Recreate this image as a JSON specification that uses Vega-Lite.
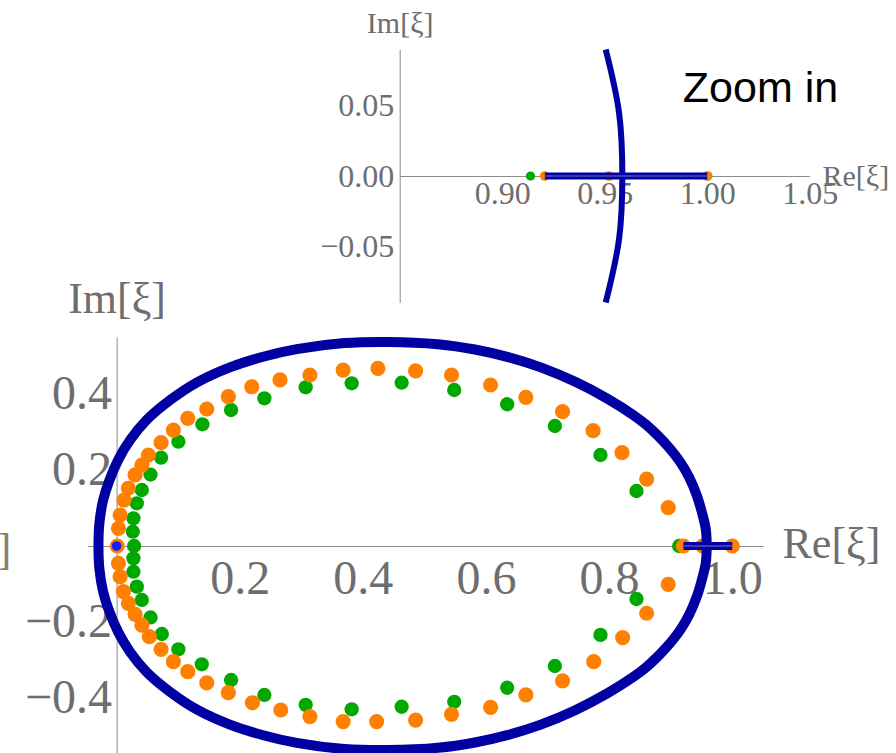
{
  "$schema": "https://vega.github.io/schema/vega-lite/v6.json",
  "width": 896,
  "height": 753,
  "autosize": "none",
  "padding": 0,
  "config": {
    "view": {"stroke": null},
    "axis": {
      "grid": false,
      "domainColor": "#8c8c8c",
      "tickColor": "#8c8c8c",
      "labelColor": "#6e6e6e",
      "titleColor": "#6e6e6e",
      "labelFont": "Liberation Serif",
      "titleFont": "Liberation Serif",
      "titleFontWeight": "normal",
      "labelFlush": false,
      "labelOverlap": false,
      "labelBound": false,
      "tickSize": 0,
      "zindex": 0
    }
  },
  "datasets": {
    "curve": [
      {"i": 0, "x": 0.9586, "y": 0},
      {"i": 1, "x": 0.9570, "y": 0.045},
      {"i": 2, "x": 0.9505, "y": 0.09},
      {"i": 3, "x": 0.9425, "y": 0.133},
      {"i": 4, "x": 0.9302, "y": 0.18},
      {"i": 5, "x": 0.9155, "y": 0.221},
      {"i": 6, "x": 0.8968, "y": 0.26},
      {"i": 7, "x": 0.8788, "y": 0.291},
      {"i": 8, "x": 0.8595, "y": 0.32},
      {"i": 9, "x": 0.840, "y": 0.344},
      {"i": 10, "x": 0.797, "y": 0.388},
      {"i": 11, "x": 0.745, "y": 0.432},
      {"i": 12, "x": 0.689, "y": 0.47},
      {"i": 13, "x": 0.636, "y": 0.497},
      {"i": 14, "x": 0.582, "y": 0.517},
      {"i": 15, "x": 0.522, "y": 0.531},
      {"i": 16, "x": 0.44, "y": 0.537},
      {"i": 17, "x": 0.37, "y": 0.534},
      {"i": 18, "x": 0.2925, "y": 0.518},
      {"i": 19, "x": 0.238, "y": 0.498},
      {"i": 20, "x": 0.184, "y": 0.47},
      {"i": 21, "x": 0.13, "y": 0.43},
      {"i": 22, "x": 0.087, "y": 0.384},
      {"i": 23, "x": 0.049, "y": 0.332},
      {"i": 24, "x": 0.022, "y": 0.279},
      {"i": 25, "x": 0.003, "y": 0.228},
      {"i": 26, "x": -0.012, "y": 0.172},
      {"i": 27, "x": -0.022, "y": 0.12},
      {"i": 28, "x": -0.028, "y": 0.06},
      {"i": 29, "x": -0.0295, "y": 0},
      {"i": 30, "x": -0.028, "y": -0.06},
      {"i": 31, "x": -0.022, "y": -0.12},
      {"i": 32, "x": -0.012, "y": -0.172},
      {"i": 33, "x": 0.003, "y": -0.228},
      {"i": 34, "x": 0.022, "y": -0.279},
      {"i": 35, "x": 0.049, "y": -0.332},
      {"i": 36, "x": 0.087, "y": -0.384},
      {"i": 37, "x": 0.13, "y": -0.43},
      {"i": 38, "x": 0.184, "y": -0.47},
      {"i": 39, "x": 0.238, "y": -0.498},
      {"i": 40, "x": 0.2925, "y": -0.518},
      {"i": 41, "x": 0.37, "y": -0.534},
      {"i": 42, "x": 0.44, "y": -0.537},
      {"i": 43, "x": 0.522, "y": -0.531},
      {"i": 44, "x": 0.582, "y": -0.517},
      {"i": 45, "x": 0.636, "y": -0.497},
      {"i": 46, "x": 0.689, "y": -0.47},
      {"i": 47, "x": 0.745, "y": -0.432},
      {"i": 48, "x": 0.797, "y": -0.388},
      {"i": 49, "x": 0.840, "y": -0.344},
      {"i": 50, "x": 0.8595, "y": -0.32},
      {"i": 51, "x": 0.8788, "y": -0.291},
      {"i": 52, "x": 0.8968, "y": -0.26},
      {"i": 53, "x": 0.9155, "y": -0.221},
      {"i": 54, "x": 0.9302, "y": -0.18},
      {"i": 55, "x": 0.9425, "y": -0.133},
      {"i": 56, "x": 0.9505, "y": -0.09},
      {"i": 57, "x": 0.9570, "y": -0.045},
      {"i": 58, "x": 0.9586, "y": 0}
    ],
    "dots": [
      {"s": "G", "x": 0.0284, "y": 0},
      {"s": "G", "x": 0.0263, "y": 0.0376},
      {"s": "G", "x": 0.0273, "y": 0.0729},
      {"s": "G", "x": 0.0328, "y": 0.1124},
      {"s": "G", "x": 0.0409, "y": 0.1474},
      {"s": "G", "x": 0.055, "y": 0.188},
      {"s": "G", "x": 0.0722, "y": 0.2324},
      {"s": "G", "x": 0.1003, "y": 0.2745},
      {"s": "G", "x": 0.1393, "y": 0.3203},
      {"s": "G", "x": 0.1859, "y": 0.3579},
      {"s": "G", "x": 0.24, "y": 0.3887},
      {"s": "G", "x": 0.3071, "y": 0.4176},
      {"s": "G", "x": 0.3818, "y": 0.4282},
      {"s": "G", "x": 0.463, "y": 0.4297},
      {"s": "G", "x": 0.5484, "y": 0.4105},
      {"s": "G", "x": 0.6344, "y": 0.373},
      {"s": "G", "x": 0.7119, "y": 0.3158},
      {"s": "G", "x": 0.786, "y": 0.2395},
      {"s": "G", "x": 0.8445, "y": 0.1447},
      {"s": "G", "x": 0.9138, "y": 0},
      {"s": "G", "x": 1.0003, "y": 0},
      {"s": "G", "x": 0.0273, "y": -0.0324},
      {"s": "G", "x": 0.0273, "y": -0.0676},
      {"s": "G", "x": 0.0328, "y": -0.107},
      {"s": "G", "x": 0.0409, "y": -0.142},
      {"s": "G", "x": 0.055, "y": -0.188},
      {"s": "G", "x": 0.0734, "y": -0.2316},
      {"s": "G", "x": 0.1003, "y": -0.2718},
      {"s": "G", "x": 0.1383, "y": -0.3113},
      {"s": "G", "x": 0.1859, "y": -0.3526},
      {"s": "G", "x": 0.24, "y": -0.392},
      {"s": "G", "x": 0.3071, "y": -0.418},
      {"s": "G", "x": 0.3818, "y": -0.4297},
      {"s": "G", "x": 0.463, "y": -0.423},
      {"s": "G", "x": 0.5484, "y": -0.41},
      {"s": "G", "x": 0.6344, "y": -0.373},
      {"s": "G", "x": 0.7119, "y": -0.3158},
      {"s": "G", "x": 0.786, "y": -0.234},
      {"s": "G", "x": 0.8445, "y": -0.1395},
      {"s": "O", "x": 0.001, "y": 0},
      {"s": "O", "x": 0.003, "y": 0.0466},
      {"s": "O", "x": 0.0057, "y": 0.0816},
      {"s": "O", "x": 0.012, "y": 0.121},
      {"s": "O", "x": 0.019, "y": 0.152},
      {"s": "O", "x": 0.03, "y": 0.187},
      {"s": "O", "x": 0.041, "y": 0.213},
      {"s": "O", "x": 0.0516, "y": 0.2395},
      {"s": "O", "x": 0.0722, "y": 0.272},
      {"s": "O", "x": 0.0922, "y": 0.305},
      {"s": "O", "x": 0.1156, "y": 0.336},
      {"s": "O", "x": 0.1464, "y": 0.3605},
      {"s": "O", "x": 0.1815, "y": 0.393},
      {"s": "O", "x": 0.2195, "y": 0.419},
      {"s": "O", "x": 0.2654, "y": 0.437},
      {"s": "O", "x": 0.314, "y": 0.45},
      {"s": "O", "x": 0.368, "y": 0.463},
      {"s": "O", "x": 0.4245, "y": 0.4676},
      {"s": "O", "x": 0.4857, "y": 0.461},
      {"s": "O", "x": 0.544, "y": 0.45},
      {"s": "O", "x": 0.6075, "y": 0.4237},
      {"s": "O", "x": 0.6648, "y": 0.391},
      {"s": "O", "x": 0.7244, "y": 0.3534},
      {"s": "O", "x": 0.774, "y": 0.3034},
      {"s": "O", "x": 0.821, "y": 0.2455},
      {"s": "O", "x": 0.861, "y": 0.176},
      {"s": "O", "x": 0.896, "y": 0.101},
      {"s": "O", "x": 0.9208, "y": 0},
      {"s": "O", "x": 0.952, "y": 0},
      {"s": "O", "x": 1.0, "y": 0},
      {"s": "O", "x": 0.003, "y": -0.0456},
      {"s": "O", "x": 0.0057, "y": -0.0807},
      {"s": "O", "x": 0.011, "y": -0.12},
      {"s": "O", "x": 0.019, "y": -0.151},
      {"s": "O", "x": 0.03, "y": -0.18},
      {"s": "O", "x": 0.041, "y": -0.208},
      {"s": "O", "x": 0.0532, "y": -0.2386},
      {"s": "O", "x": 0.0722, "y": -0.272},
      {"s": "O", "x": 0.0922, "y": -0.3045},
      {"s": "O", "x": 0.1156, "y": -0.3308},
      {"s": "O", "x": 0.1464, "y": -0.36},
      {"s": "O", "x": 0.1815, "y": -0.386},
      {"s": "O", "x": 0.2206, "y": -0.4124},
      {"s": "O", "x": 0.2666, "y": -0.4316},
      {"s": "O", "x": 0.314, "y": -0.449},
      {"s": "O", "x": 0.368, "y": -0.462},
      {"s": "O", "x": 0.4224, "y": -0.462},
      {"s": "O", "x": 0.4857, "y": -0.458},
      {"s": "O", "x": 0.544, "y": -0.443},
      {"s": "O", "x": 0.6075, "y": -0.4245},
      {"s": "O", "x": 0.6648, "y": -0.392},
      {"s": "O", "x": 0.7244, "y": -0.355},
      {"s": "O", "x": 0.775, "y": -0.3045},
      {"s": "O", "x": 0.822, "y": -0.241},
      {"s": "O", "x": 0.861, "y": -0.177},
      {"s": "O", "x": 0.896, "y": -0.1008}
    ],
    "seg": [
      {"i": 0, "x": 0.9208, "y": 0},
      {"i": 1, "x": 1.0, "y": 0}
    ],
    "origin": [
      {"x": 0, "y": 0}
    ],
    "notes": [
      {"p": "inset", "t": "Zoom in", "x": 1.026, "y": 0.0526},
      {"p": "main", "t": "]", "x": -0.183, "y": -0.012}
    ]
  },
  "layer": [
    {
      "encoding": {
        "x": {
          "field": "x",
          "type": "quantitative",
          "scale": {"domain": [-0.047, 1.05], "range": [87.7, 763], "nice": false, "zero": false},
          "axis": {
            "orient": "bottom",
            "offset": -207,
            "values": [0.05, 0.1, 0.15, 0.2, 0.25, 0.3, 0.35, 0.4, 0.45, 0.5, 0.55, 0.6, 0.65, 0.7, 0.75, 0.8, 0.85, 0.9, 0.95, 1.0, 1.05],
            "format": ".1f",
            "labelExpr": "abs(datum.value*5 - round(datum.value*5)) < 0.001 ? datum.label : ''",
            "labelFontSize": 48,
            "labelPadding": 9,
            "title": "Re[ξ]",
            "titleFontSize": 44,
            "titleX": 782,
            "titleY": -2,
            "titleAlign": "left",
            "titleBaseline": "middle",
            "titleAngle": 0,
            "encode": {"ticks": {"update": {"y2": {"signal": "abs(datum.value*5 - round(datum.value*5)) < 0.001 ? -9 : -5"}}}}
          }
        },
        "y": {
          "field": "y",
          "type": "quantitative",
          "scale": {"domain": [-0.55, 0.55], "range": [755, 337], "nice": false, "zero": false},
          "axis": {
            "orient": "left",
            "offset": -116.6,
            "values": [-0.55, -0.5, -0.45, -0.4, -0.35, -0.3, -0.25, -0.2, -0.15, -0.1, -0.05, 0.05, 0.1, 0.15, 0.2, 0.25, 0.3, 0.35, 0.4, 0.45, 0.5, 0.55],
            "format": ".1f",
            "labelExpr": "abs(datum.value*5 - round(datum.value*5)) < 0.001 ? datum.label : ''",
            "labelFontSize": 48,
            "labelPadding": 5,
            "title": "Im[ξ]",
            "titleFontSize": 44,
            "titleX": 0,
            "titleY": 312,
            "titleAlign": "center",
            "titleBaseline": "alphabetic",
            "titleAngle": 0,
            "encode": {"ticks": {"update": {"x2": {"signal": "abs(datum.value*5 - round(datum.value*5)) < 0.001 ? 9 : 5"}}}}
          }
        }
      },
      "layer": [
        {
          "data": {"name": "dots"},
          "transform": [{"filter": "datum.s == 'G'"}],
          "mark": {"type": "circle", "size": 205, "color": "#00a800", "opacity": 1}
        },
        {
          "data": {"name": "dots"},
          "transform": [{"filter": "datum.s == 'O'"}],
          "mark": {"type": "circle", "size": 230, "color": "#ff8000", "opacity": 1}
        },
        {
          "data": {"name": "curve"},
          "mark": {"type": "line", "color": "#0000a3", "strokeWidth": 10, "interpolate": "catmull-rom"},
          "encoding": {"order": {"field": "i", "type": "quantitative"}}
        },
        {
          "data": {"name": "seg"},
          "mark": {"type": "line", "color": "#0000a3", "strokeWidth": 8},
          "encoding": {"order": {"field": "i", "type": "quantitative"}}
        },
        {
          "data": {"name": "seg"},
          "mark": {"type": "line", "color": "#5050c0", "strokeWidth": 1.5},
          "encoding": {"order": {"field": "i", "type": "quantitative"}}
        },
        {
          "data": {"name": "origin"},
          "mark": {"type": "circle", "size": 95, "color": "#1a1aff", "opacity": 1}
        },
        {
          "data": {"name": "notes"},
          "transform": [{"filter": "datum.p == 'main'"}],
          "mark": {"type": "text", "font": "Liberation Serif", "fontSize": 44, "color": "#8a8070", "align": "center", "baseline": "middle"},
          "encoding": {"text": {"field": "t"}}
        }
      ]
    },
    {
      "encoding": {
        "x": {
          "field": "x",
          "type": "quantitative",
          "scale": {"domain": [0.85, 1.05], "range": [399.7, 809.7], "nice": false, "zero": false},
          "axis": {
            "orient": "bottom",
            "offset": -577,
            "values": [0.86, 0.87, 0.88, 0.89, 0.9, 0.91, 0.92, 0.93, 0.94, 0.95, 0.96, 0.97, 0.98, 0.99, 1.0, 1.01, 1.02, 1.03, 1.04, 1.05],
            "format": ".2f",
            "labelExpr": "abs(datum.value*20 - round(datum.value*20)) < 0.001 ? datum.label : ''",
            "labelFontSize": 32,
            "labelPadding": 2,
            "title": "Re[ξ]",
            "titleFontSize": 30,
            "titleX": 822,
            "titleY": 0,
            "titleAlign": "left",
            "titleBaseline": "middle",
            "titleAngle": 0,
            "encode": {"ticks": {"update": {"y2": {"signal": "abs(datum.value*20 - round(datum.value*20)) < 0.001 ? -6 : -4"}}}}
          }
        },
        "y": {
          "field": "y",
          "type": "quantitative",
          "scale": {"domain": [-0.09, 0.09], "range": [302.5, 49.5], "nice": false, "zero": false},
          "axis": {
            "orient": "left",
            "offset": -399.7,
            "values": [-0.09, -0.08, -0.07, -0.06, -0.05, -0.04, -0.03, -0.02, -0.01, 0, 0.01, 0.02, 0.03, 0.04, 0.05, 0.06, 0.07, 0.08, 0.09],
            "format": ".2f",
            "labelExpr": "abs(datum.value*20 - round(datum.value*20)) < 0.001 ? datum.label : ''",
            "labelFontSize": 32,
            "labelPadding": 6,
            "title": "Im[ξ]",
            "titleFontSize": 30,
            "titleX": 0,
            "titleY": 32,
            "titleAlign": "center",
            "titleBaseline": "alphabetic",
            "titleAngle": 0,
            "encode": {"ticks": {"update": {"x2": {"signal": "abs(datum.value*20 - round(datum.value*20)) < 0.001 ? 6 : 3"}}}}
          }
        }
      },
      "layer": [
        {
          "data": {"name": "dots"},
          "transform": [{"filter": "datum.s == 'G' && datum.x > 0.85 && abs(datum.y) < 0.09"}],
          "mark": {"type": "circle", "size": 85, "color": "#00a800", "opacity": 1}
        },
        {
          "data": {"name": "dots"},
          "transform": [{"filter": "datum.s == 'O' && datum.x > 0.85 && abs(datum.y) < 0.09"}],
          "mark": {"type": "circle", "size": 95, "color": "#ff8000", "opacity": 1}
        },
        {
          "data": {"name": "curve"},
          "transform": [{"filter": "datum.x > 0.85 && abs(datum.y) <= 0.0901 && datum.i < 58"}],
          "mark": {"type": "line", "color": "#0000a3", "strokeWidth": 6, "interpolate": "catmull-rom"},
          "encoding": {"order": {"field": "y", "type": "quantitative"}}
        },
        {
          "data": {"name": "seg"},
          "mark": {"type": "line", "color": "#0000a3", "strokeWidth": 7},
          "encoding": {"order": {"field": "i", "type": "quantitative"}}
        },
        {
          "data": {"name": "seg"},
          "mark": {"type": "line", "color": "#5050c0", "strokeWidth": 1.5},
          "encoding": {"order": {"field": "i", "type": "quantitative"}}
        },
        {
          "data": {"name": "notes"},
          "transform": [{"filter": "datum.p == 'inset'"}],
          "mark": {"type": "text", "font": "Liberation Sans", "fontSize": 43, "color": "#000000", "align": "center", "baseline": "alphabetic"},
          "encoding": {"text": {"field": "t"}}
        }
      ]
    }
  ],
  "resolve": {
    "scale": {"x": "independent", "y": "independent"},
    "axis": {"x": "independent", "y": "independent"}
  }
}
